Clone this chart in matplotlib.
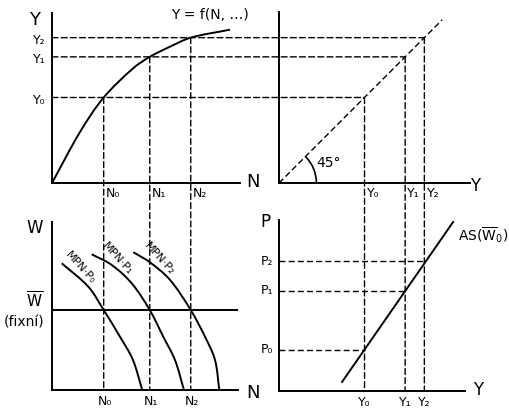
import numpy as np
import matplotlib
matplotlib.use("Agg")
import matplotlib.pyplot as plt
from matplotlib.patches import ConnectionPatch, Arc, PathPatch
from matplotlib.path import Path

plt.rcParams['font.family'] = ['DejaVu Sans']
plt.rcParams['mathtext.default'] = 'regular'

# employment, output and price levels (diagram units)
N_levels = [2.75, 5.2, 7.38]
Y_levels = [5.03, 7.42, 8.55]
P_levels = [2.4, 5.85, 7.6]
N_labels = ['N₀', 'N₁', 'N₂']
Y_labels = ['Y₀', 'Y₁', 'Y₂']
P_labels = ['P₀', 'P₁', 'P₂']

# production function Y = f(N, ...)
prod_N = [0, 1.49, 2.75, 4.32, 5.2, 6.28, 7.38, 9.47]
prod_Y = [0, 3.0, 5.03, 6.75, 7.42, 8.02, 8.55, 9.02]

# labour demand curves MPN*P
mpn_N = [
    [0.52, 1.93, 2.75, 3.6, 4.3, 4.8],
    [2.11, 3.18, 4.24, 5.2, 5.92, 6.54, 7.02],
    [4.33, 5.21, 6.28, 7.38, 8.14, 8.67, 8.9],
]
mpn_W = [
    [7.54, 6.15, 4.76, 3.2, 1.8, 0.0],
    [8.08, 7.44, 6.35, 4.76, 3.17, 1.79, 0.0],
    [8.2, 7.6, 6.55, 4.76, 3.17, 1.79, 0.0],
]
mpn_labels = ['MPN·P₀', 'MPN·P₁', 'MPN·P₂']
W_bar = 4.76

# aggregate supply line
as_Y = [3.71, 10.24]
as_P = [0.53, 9.88]

W, H = 509, 415
fig = plt.figure(figsize=(W / 100, H / 100), dpi=100)


def panel(left, bottom, width, height, xscale, yscale):
    ax = fig.add_axes([left / W, 1 - bottom / H, width / W, height / H])
    ax.set_xlim(0, width / xscale)
    ax.set_ylim(0, height / yscale)
    for s in ['top', 'right']:
        ax.spines[s].set_visible(False)
    for s in ['left', 'bottom']:
        ax.spines[s].set_linewidth(1.4)
    ax.set_xticks([])
    ax.set_yticks([])
    ax.patch.set_alpha(0)
    return ax


def ftext(x, y, s, size=12, **kw):
    kw.setdefault('ha', 'center')
    fig.text(x / W, 1 - y / H, s, fontsize=size, va='center', **kw)


def smooth_curve(ax, xs, ys, lw=1.4):
    # cubic bezier through the read points, chord-length tangents
    pts = np.column_stack([xs, ys]).astype(float)
    n = len(pts)
    d = np.linalg.norm(np.diff(pts, axis=0), axis=1)
    tang = np.zeros_like(pts)
    tang[0] = (pts[1] - pts[0]) / d[0]
    tang[-1] = (pts[-1] - pts[-2]) / d[-1]
    for k in range(1, n - 1):
        tang[k] = (pts[k + 1] - pts[k - 1]) / (d[k - 1] + d[k])
    verts = [pts[0]]
    codes = [Path.MOVETO]
    for i in range(n - 1):
        verts += [pts[i] + tang[i] * d[i] / 3, pts[i + 1] - tang[i + 1] * d[i] / 3, pts[i + 1]]
        codes += [Path.CURVE4] * 3
    ax.add_patch(PathPatch(Path(verts, codes), fill=False, lw=lw, color='black'))


ax_tl = panel(52, 183, 188, 170, 18.8, 17.0)
ax_tr = panel(279, 183, 191, 171, 17.0, 17.0)
ax_bl = panel(52, 390, 186, 168, 18.8, 16.8)
ax_br = panel(279, 391, 186, 171, 17.0, 17.1)

dash = (0, (4.3, 2.3))
lw_dash = 1.0


def connect(ax_a, xy_a, ax_b, xy_b):
    con = ConnectionPatch(xyA=xy_a, coordsA=ax_a.transData,
                          xyB=xy_b, coordsB=ax_b.transData,
                          linestyle=dash, linewidth=lw_dash, color='black')
    fig.add_artist(con)


# top left: production function
smooth_curve(ax_tl, prod_N, prod_Y)
for i in range(3):
    connect(ax_tl, (0, Y_levels[i]), ax_tr, (Y_levels[i], Y_levels[i]))
    connect(ax_tl, (N_levels[i], Y_levels[i]), ax_bl, (N_levels[i], 0))
    ax_tl.text(N_levels[i] + 0.5, -0.6, N_labels[i], fontsize=9, ha='center', va='center')
    ax_tl.text(-0.7, Y_levels[i] - 0.15, Y_labels[i], fontsize=9, ha='center', va='center')
ax_tl.text(8.4, 9.9, 'Y = f(N, …)', fontsize=10, ha='center', va='center')

# top right: 45 degree line
diag = [0, 9.6]
ax_tr.plot(diag, diag, color='black', lw=lw_dash, linestyle=dash)
ax_tr.add_patch(Arc((0, 0), 4.4, 4.4, theta1=0, theta2=45, color='black', lw=1.2))
ax_tr.text(2.9, 1.2, '45°', fontsize=10, ha='center', va='center')
for i in range(3):
    connect(ax_tr, (Y_levels[i], Y_levels[i]), ax_br, (Y_levels[i], 0))
    ax_tr.text(Y_levels[i] + 0.5, -0.6, Y_labels[i], fontsize=9, ha='center', va='center')

# bottom left: labour market
ax_bl.axhline(W_bar, color='black', lw=1.4)
for i in range(3):
    smooth_curve(ax_bl, mpn_N[i], mpn_W[i])
    ax_bl.text(N_levels[i] + 0.05, -0.7, N_labels[i], fontsize=9, ha='center', va='center')
label_pos = [(1.49, 7.26), (3.46, 7.8), (5.69, 7.8)]
for (x, y), s in zip(label_pos, mpn_labels):
    ax_bl.text(x, y, s, fontsize=8, rotation=-48, ha='center', va='center')

# bottom right: aggregate supply
ax_br.plot(as_Y, as_P, color='black', lw=1.4)
for i in range(3):
    ax_br.plot([0, Y_levels[i]], [P_levels[i], P_levels[i]],
               color='black', lw=lw_dash, linestyle=dash)
    ax_br.text(Y_levels[i], -0.7, Y_labels[i], fontsize=9, ha='center', va='center')
    ax_br.text(-0.7, P_levels[i], P_labels[i], fontsize=9, ha='center', va='center')

# axis names
ftext(35, 20, 'Y', 13)
ftext(253, 182, 'N', 13)
ftext(475, 186, 'Y', 12)
ftext(35, 228, 'W', 12)
ftext(253, 393, 'N', 13)
ftext(265, 222, 'P', 12)
ftext(478, 390, 'Y', 12)
ftext(35, 301, r'$\overline{W}$', 11)
ftext(24, 322, '(fixní)', 10)
ftext(458, 235, r'AS($\overline{W}_0$)', 10, ha='left')

fig.savefig('out.png', dpi=100)
